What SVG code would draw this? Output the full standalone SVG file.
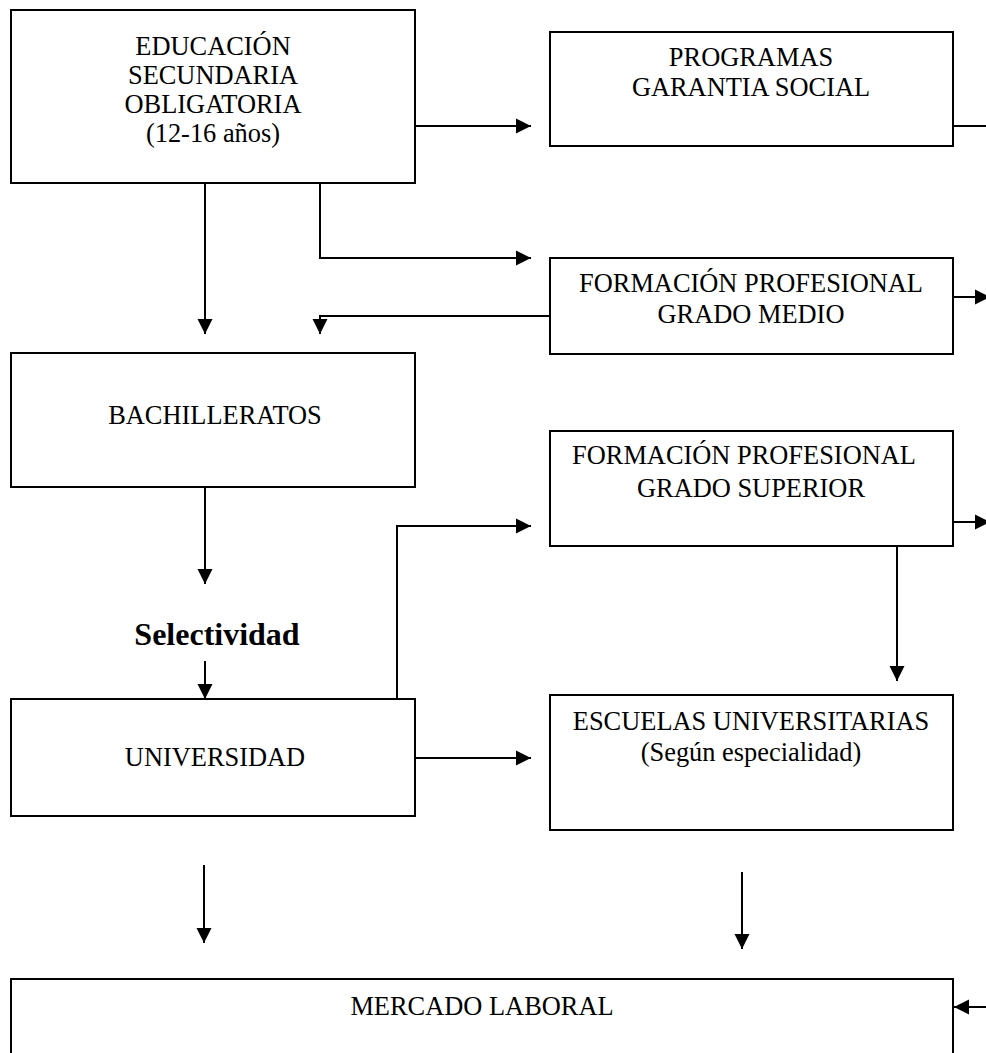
<svg xmlns="http://www.w3.org/2000/svg" width="986" height="1053" viewBox="0 0 986 1053">
  <defs>
    <style>
      .box { fill: #ffffff; stroke: #000000; stroke-width: 2; }
      .lbl { font-family: "Liberation Serif", "Times New Roman", serif; font-size: 26.4px; fill: #000000; text-anchor: middle; }
      .bold { font-family: "Liberation Serif", "Times New Roman", serif; font-size: 32px; font-weight: bold; fill: #000000; text-anchor: middle; }
      .wire { fill: none; stroke: #000000; stroke-width: 2; }
      .arr { fill: none; stroke: #000000; stroke-width: 2; marker-end: url(#head); }
    </style>
    <marker id="head" markerUnits="userSpaceOnUse" markerWidth="16" markerHeight="16" viewBox="0 0 16 16" refX="15" refY="8" orient="auto">
      <path d="M0,0.5 L15,8 L0,15.5 Z" fill="#000000"/>
    </marker>
  </defs>
  <rect width="986" height="1053" fill="#ffffff"/>

  <!-- connectors -->
  <g id="connectors">
    <!-- ESO to Garantía Social -->
    <path class="arr" d="M415,126 H531"/>
    <!-- ESO down to Bachilleratos -->
    <path class="arr" d="M205,183 V334"/>
    <!-- ESO to FP grado medio -->
    <path class="arr" d="M320,183 V258 H531"/>
    <!-- FP grado medio back to Bachilleratos -->
    <path class="arr" d="M549,316 H320 V334"/>
    <!-- Bachilleratos to Selectividad -->
    <path class="arr" d="M205,487 V584"/>
    <!-- Selectividad to Universidad -->
    <path class="arr" d="M205,661 V699"/>
    <!-- Universidad to FP grado superior -->
    <path class="arr" d="M397,699 V526 H531"/>
    <!-- Universidad to Escuelas -->
    <path class="arr" d="M415,758 H531"/>
    <!-- FP grado superior to Escuelas -->
    <path class="arr" d="M897,546 V681"/>
    <!-- down to Mercado laboral -->
    <path class="arr" d="M204,865 V943"/>
    <path class="arr" d="M742,872 V949"/>
    <!-- stubs on the right edge -->
    <path class="wire" d="M953,126 H990"/>
    <path class="arr" d="M953,297 H990"/>
    <path class="arr" d="M953,522 H990"/>
    <path class="arr" d="M992,1007 H954"/>
  </g>

  <g id="eso">
    <rect class="box" x="11" y="10" width="404" height="173"/>
    <text class="lbl" x="213" y="55">EDUCACIÓN</text>
    <text class="lbl" x="213" y="84">SECUNDARIA</text>
    <text class="lbl" x="213" y="113">OBLIGATORIA</text>
    <text class="lbl" x="213" y="142">(12-16 años)</text>
  </g>

  <g id="garantia-social">
    <rect class="box" x="550" y="32" width="403" height="114"/>
    <text class="lbl" x="751" y="66">PROGRAMAS</text>
    <text class="lbl" x="751" y="96">GARANTIA SOCIAL</text>
  </g>

  <g id="fp-medio">
    <rect class="box" x="550" y="258" width="403" height="96"/>
    <text class="lbl" x="751" y="292">FORMACIÓN PROFESIONAL</text>
    <text class="lbl" x="751" y="323">GRADO MEDIO</text>
  </g>

  <g id="bachilleratos">
    <rect class="box" x="11" y="353" width="404" height="134"/>
    <text class="lbl" x="215" y="424">BACHILLERATOS</text>
  </g>

  <g id="fp-superior">
    <rect class="box" x="550" y="431" width="403" height="115"/>
    <text class="lbl" x="744" y="464">FORMACIÓN PROFESIONAL</text>
    <text class="lbl" x="751" y="497">GRADO SUPERIOR</text>
  </g>

  <g id="selectividad">
    <text class="bold" x="217" y="645">Selectividad</text>
  </g>

  <g id="universidad">
    <rect class="box" x="11" y="699" width="404" height="117"/>
    <text class="lbl" x="215" y="766">UNIVERSIDAD</text>
  </g>

  <g id="escuelas">
    <rect class="box" x="550" y="695" width="403" height="135"/>
    <text class="lbl" x="751" y="730">ESCUELAS UNIVERSITARIAS</text>
    <text class="lbl" x="751" y="761">(Según especialidad)</text>
  </g>

  <g id="mercado">
    <rect class="box" x="11" y="979" width="942" height="90"/>
    <text class="lbl" x="482" y="1015">MERCADO LABORAL</text>
  </g>
</svg>
